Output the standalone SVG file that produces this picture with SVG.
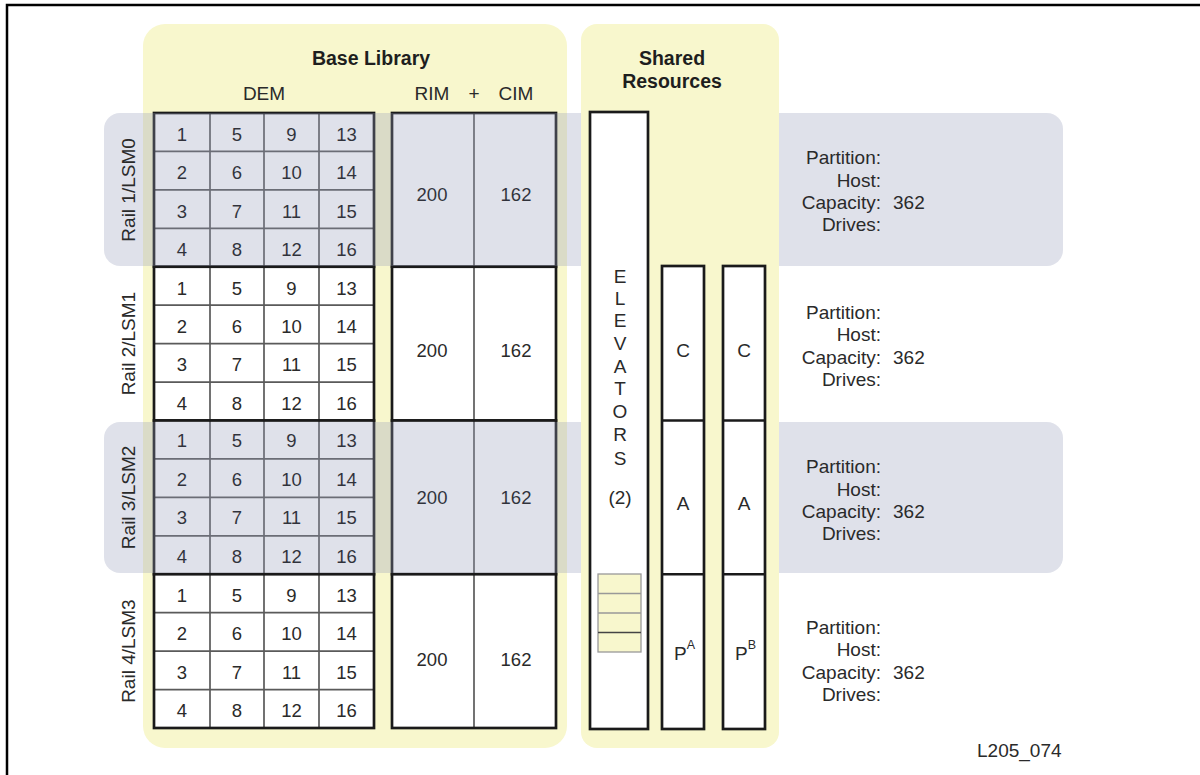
<svg xmlns="http://www.w3.org/2000/svg" width="1200" height="775" viewBox="0 0 1200 775">
<style>
text{font-family:"Liberation Sans",Arial,sans-serif;fill:#2a2a2a;font-size:19px}
.b{font-weight:bold;font-size:19.5px;fill:#1e1e1e}
.m{text-anchor:middle}
.r{text-anchor:end}
.n{font-size:18.5px;text-anchor:middle}
.g text{fill:#050505}
.panel{fill:#f8f7cd}
.band{fill:rgb(148,155,185);fill-opacity:0.3}
.outer{fill:none;stroke:#1a1a1a;stroke-width:2.7}
.inner{stroke:#5a5a5a;stroke-width:1.7;fill:none}
.white{fill:#ffffff}
.box{fill:#ffffff;stroke:#1a1a1a;stroke-width:2.7}
.div{stroke:#1a1a1a;stroke-width:2.5}
</style>
<rect x="7" y="5" width="1300" height="900" fill="#ffffff" stroke="#000" stroke-width="2.5"/>

<g id="base-library">
<rect class="panel" x="143" y="24" width="424" height="724" rx="22"/>
<text class="b m" x="371" y="65">Base Library</text>
<text class="m" x="264" y="100">DEM</text>
<text class="m" x="432" y="100">RIM</text>
<text class="m" x="474" y="100">+</text>
<text class="m" x="516" y="100">CIM</text>
</g>

<g id="dem-grid-0" class="g">
<rect class="white" x="154" y="113" width="220" height="153.75"/>
<path class="inner" d="M210 113V266.75M264 113V266.75M319 113V266.75M154 151.44H374M154 189.88H374M154 228.31H374"/>
<rect class="outer" x="154" y="113" width="220" height="153.75"/>
<text class="n" x="182" y="140.7">1</text><text class="n" x="237" y="140.7">5</text><text class="n" x="291.5" y="140.7">9</text><text class="n" x="346.5" y="140.7">13</text>
<text class="n" x="182" y="179.2">2</text><text class="n" x="237" y="179.2">6</text><text class="n" x="291.5" y="179.2">10</text><text class="n" x="346.5" y="179.2">14</text>
<text class="n" x="182" y="217.6">3</text><text class="n" x="237" y="217.6">7</text><text class="n" x="291.5" y="217.6">11</text><text class="n" x="346.5" y="217.6">15</text>
<text class="n" x="182" y="256">4</text><text class="n" x="237" y="256">8</text><text class="n" x="291.5" y="256">12</text><text class="n" x="346.5" y="256">16</text>
</g>
<g id="rimcim-0" class="g">
<rect class="white" x="392" y="113" width="164" height="153.75"/>
<path class="inner" d="M474 113V266.75"/>
<rect class="outer" x="392" y="113" width="164" height="153.75"/>
<text class="n" x="432" y="200.5">200</text><text class="n" x="516" y="200.5">162</text>
</g>

<g id="dem-grid-1">
<rect class="white" x="154" y="266.75" width="220" height="153.75"/>
<path class="inner" d="M210 266.75V420.5M264 266.75V420.5M319 266.75V420.5M154 305.19H374M154 343.63H374M154 382.06H374"/>
<rect class="outer" x="154" y="266.75" width="220" height="153.75"/>
<text class="n" x="182" y="294.5">1</text><text class="n" x="237" y="294.5">5</text><text class="n" x="291.5" y="294.5">9</text><text class="n" x="346.5" y="294.5">13</text>
<text class="n" x="182" y="332.9">2</text><text class="n" x="237" y="332.9">6</text><text class="n" x="291.5" y="332.9">10</text><text class="n" x="346.5" y="332.9">14</text>
<text class="n" x="182" y="371.3">3</text><text class="n" x="237" y="371.3">7</text><text class="n" x="291.5" y="371.3">11</text><text class="n" x="346.5" y="371.3">15</text>
<text class="n" x="182" y="409.8">4</text><text class="n" x="237" y="409.8">8</text><text class="n" x="291.5" y="409.8">12</text><text class="n" x="346.5" y="409.8">16</text>
</g>
<g id="rimcim-1">
<rect class="white" x="392" y="266.75" width="164" height="153.75"/>
<path class="inner" d="M474 266.75V420.5"/>
<rect class="outer" x="392" y="266.75" width="164" height="153.75"/>
<text class="n" x="432" y="356.5">200</text><text class="n" x="516" y="356.5">162</text>
</g>

<g id="dem-grid-2" class="g">
<rect class="white" x="154" y="420.5" width="220" height="153.75"/>
<path class="inner" d="M210 420.5V574.25M264 420.5V574.25M319 420.5V574.25M154 458.94H374M154 497.38H374M154 535.81H374"/>
<rect class="outer" x="154" y="420.5" width="220" height="153.75"/>
<text class="n" x="182" y="447.2">1</text><text class="n" x="237" y="447.2">5</text><text class="n" x="291.5" y="447.2">9</text><text class="n" x="346.5" y="447.2">13</text>
<text class="n" x="182" y="485.7">2</text><text class="n" x="237" y="485.7">6</text><text class="n" x="291.5" y="485.7">10</text><text class="n" x="346.5" y="485.7">14</text>
<text class="n" x="182" y="524.1">3</text><text class="n" x="237" y="524.1">7</text><text class="n" x="291.5" y="524.1">11</text><text class="n" x="346.5" y="524.1">15</text>
<text class="n" x="182" y="563">4</text><text class="n" x="237" y="563">8</text><text class="n" x="291.5" y="563">12</text><text class="n" x="346.5" y="563">16</text>
</g>
<g id="rimcim-2" class="g">
<rect class="white" x="392" y="420.5" width="164" height="153.75"/>
<path class="inner" d="M474 420.5V574.25"/>
<rect class="outer" x="392" y="420.5" width="164" height="153.75"/>
<text class="n" x="432" y="503.5">200</text><text class="n" x="516" y="503.5">162</text>
</g>

<g id="dem-grid-3">
<rect class="white" x="154" y="574.25" width="220" height="153.75"/>
<path class="inner" d="M210 574.25V728M264 574.25V728M319 574.25V728M154 612.69H374M154 651.13H374M154 689.56H374"/>
<rect class="outer" x="154" y="574.25" width="220" height="153.75"/>
<text class="n" x="182" y="602">1</text><text class="n" x="237" y="602">5</text><text class="n" x="291.5" y="602">9</text><text class="n" x="346.5" y="602">13</text>
<text class="n" x="182" y="640.4">2</text><text class="n" x="237" y="640.4">6</text><text class="n" x="291.5" y="640.4">10</text><text class="n" x="346.5" y="640.4">14</text>
<text class="n" x="182" y="678.8">3</text><text class="n" x="237" y="678.8">7</text><text class="n" x="291.5" y="678.8">11</text><text class="n" x="346.5" y="678.8">15</text>
<text class="n" x="182" y="717.3">4</text><text class="n" x="237" y="717.3">8</text><text class="n" x="291.5" y="717.3">12</text><text class="n" x="346.5" y="717.3">16</text>
</g>
<g id="rimcim-3">
<rect class="white" x="392" y="574.25" width="164" height="153.75"/>
<path class="inner" d="M474 574.25V728"/>
<rect class="outer" x="392" y="574.25" width="164" height="153.75"/>
<text class="n" x="432" y="665.5">200</text><text class="n" x="516" y="665.5">162</text>
</g>

<g id="bands">
<rect class="band" x="104" y="113" width="959" height="153" rx="16"/>
<rect class="band" x="104" y="422" width="959" height="151" rx="16"/>
</g>

<g id="shared-resources">
<rect class="panel" x="581" y="24" width="198" height="724" rx="16"/>
<text class="b m" x="672" y="65">Shared</text>
<text class="b m" x="672" y="88">Resources</text>
</g>

<g id="elevators">
<rect class="box" x="590" y="112" width="58" height="617"/>
<text class="m" x="620" y="283">E</text>
<text class="m" x="620" y="305">L</text>
<text class="m" x="620" y="327">E</text>
<text class="m" x="620" y="350">V</text>
<text class="m" x="620" y="373">A</text>
<text class="m" x="620" y="395">T</text>
<text class="m" x="620" y="418">O</text>
<text class="m" x="620" y="441">R</text>
<text class="m" x="620" y="465">S</text>
<text class="m" x="620" y="504">(2)</text>
<rect x="598" y="574" width="43" height="78" fill="#f8f7cd" stroke="#999" stroke-width="1.3"/>
<path d="M598 593.5H641M598 613H641" stroke="#999" stroke-width="1.3"/>
<path d="M598 632.5H641" stroke="#444" stroke-width="1.5"/>
</g>

<g id="column-a">
<rect class="box" x="662" y="266" width="42" height="463"/>
<path class="div" d="M662 420.5H704M662 574.25H704"/>
<text class="m" x="683" y="357">C</text>
<text class="m" x="683" y="510">A</text>
<text x="674" y="660">P<tspan font-size="12.5" dy="-11">A</tspan></text>
</g>
<g id="column-b">
<rect class="box" x="723" y="266" width="42" height="463"/>
<path class="div" d="M723 420.5H765M723 574.25H765"/>
<text class="m" x="744" y="357">C</text>
<text class="m" x="744" y="510">A</text>
<text x="735" y="660">P<tspan font-size="12.5" dy="-11">B</tspan></text>
</g>

<g id="rail-labels">
<text class="m" transform="translate(128,189.9) rotate(-90)" y="6.5">Rail 1/LSM0</text>
<text class="m" transform="translate(128,343.6) rotate(-90)" y="6.5">Rail 2/LSM1</text>
<text class="m" transform="translate(128,497.4) rotate(-90)" y="6.5">Rail 3/LSM2</text>
<text class="m" transform="translate(128,651.1) rotate(-90)" y="6.5">Rail 4/LSM3</text>
</g>

<g id="info-0">
<text class="r" x="881" y="163.5">Partition:</text>
<text class="r" x="881" y="186.5">Host:</text>
<text class="r" x="881" y="208.5">Capacity:</text><text x="893" y="208.5">362</text>
<text class="r" x="881" y="230.5">Drives:</text>
</g>
<g id="info-1">
<text class="r" x="881" y="318.5">Partition:</text>
<text class="r" x="881" y="340.5">Host:</text>
<text class="r" x="881" y="363.5">Capacity:</text><text x="893" y="363.5">362</text>
<text class="r" x="881" y="385.5">Drives:</text>
</g>
<g id="info-2">
<text class="r" x="881" y="472.5">Partition:</text>
<text class="r" x="881" y="495.5">Host:</text>
<text class="r" x="881" y="517.5">Capacity:</text><text x="893" y="517.5">362</text>
<text class="r" x="881" y="539.5">Drives:</text>
</g>
<g id="info-3">
<text class="r" x="881" y="633.5">Partition:</text>
<text class="r" x="881" y="655.5">Host:</text>
<text class="r" x="881" y="678.5">Capacity:</text><text x="893" y="678.5">362</text>
<text class="r" x="881" y="700.5">Drives:</text>
</g>

<g id="connectors"></g>

<text x="977" y="757">L205_074</text>
</svg>
